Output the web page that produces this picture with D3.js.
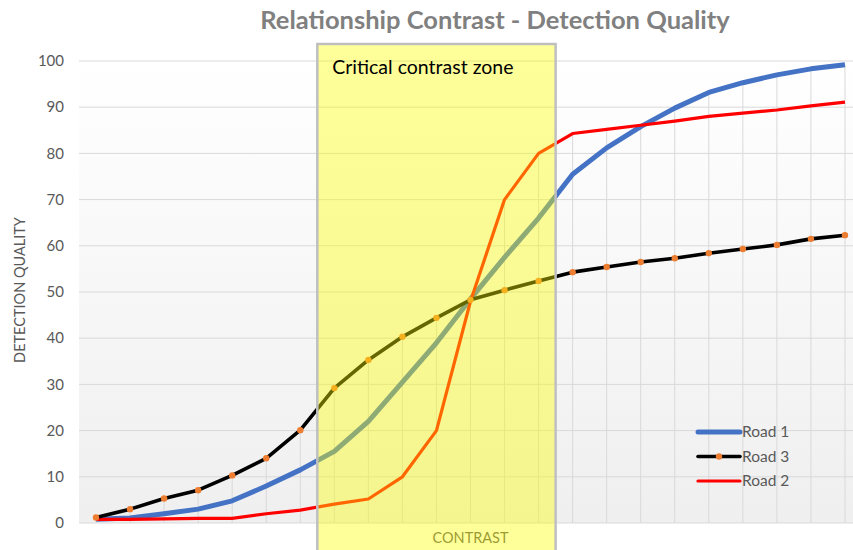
<!DOCTYPE html>
<html>
<head>
<meta charset="utf-8">
<script src="https://cdn.jsdelivr.net/npm/d3@7"></script>
<style>
  body { margin: 0; background: #fff; }
  svg { display: block; font-family: Lato, "Open Sans", sans-serif; }
</style>
</head>
<body>
<svg width="853" height="550"></svg>
<script>
// contrast steps along the x axis (no tick labels shown)
var categories = d3.range(1, 24);

var road1 = [0.8, 1.1, 2, 3, 4.8, 8, 11.5, 15.5, 22, 30.5, 39, 48.5, 57.5, 66, 75.5, 81.2, 85.8, 89.8, 93.2, 95.3, 97, 98.3, 99.2];
var road2 = [0.8, 0.8, 0.9, 1, 1, 2, 2.8, 4.1, 5.2, 10, 20, 48, 70, 80, 84.3, 85.2, 86.1, 87, 88, 88.7, 89.4, 90.3, 91.1];
var road3 = [1.2, 3, 5.3, 7.1, 10.3, 14, 20.1, 29.2, 35.3, 40.3, 44.4, 48.3, 50.4, 52.4, 54.3, 55.4, 56.5, 57.3, 58.4, 59.3, 60.2, 61.5, 62.3];

var yTicks = [0, 10, 20, 30, 40, 50, 60, 70, 80, 90, 100];

// critical zone covers these contrast steps
var zoneFirst = 8, zoneLast = 14;

var series = [
  {name: "Road 1", values: road1, color: "#4472c4", width: 5},
  {name: "Road 2", values: road2, color: "#ff0000", width: 3.2},
  {name: "Road 3", values: road3, color: "#000000", width: 3.6, marker: "#ed7d31"}
];
var legendOrder = ["Road 1", "Road 3", "Road 2"];

var svg = d3.select("svg");

var x = d3.scaleBand()
    .domain(categories)
    .range([79, 862])
    .padding(0);
var cx = function(c) { return x(c) + x.bandwidth() / 2; };

var y = d3.scaleLinear()
    .domain([0, 100])
    .range([523, 61]);

var defs = svg.append("defs");
var grad = defs.append("linearGradient")
    .attr("id", "plotbg")
    .attr("x1", 0).attr("y1", 0).attr("x2", 0).attr("y2", 1);
grad.append("stop").attr("offset", "0%").attr("stop-color", "#ffffff");
grad.append("stop").attr("offset", "100%").attr("stop-color", "#efefef");

svg.append("rect")
    .attr("x", x.range()[0])
    .attr("y", y(100))
    .attr("width", x.range()[1] - x.range()[0])
    .attr("height", y(0) - y(100))
    .attr("fill", "url(#plotbg)");

// horizontal gridlines
svg.append("g")
    .selectAll("line")
    .data(yTicks)
    .enter().append("line")
    .attr("x1", x.range()[0])
    .attr("x2", x.range()[1])
    .attr("y1", function(d) { return y(d); })
    .attr("y2", function(d) { return y(d); })
    .attr("stroke", "#d9d9d9")
    .attr("stroke-width", 1);

// drop lines from the highest series down to the axis
svg.append("g")
    .selectAll("line")
    .data(categories)
    .enter().append("line")
    .attr("x1", function(d) { return cx(d); })
    .attr("x2", function(d) { return cx(d); })
    .attr("y1", function(d, i) { return y(d3.max(series, function(s) { return s.values[i]; })); })
    .attr("y2", y(0))
    .attr("stroke", "#d9d9d9")
    .attr("stroke-width", 1);

// y tick labels
svg.append("g")
    .selectAll("text")
    .data(yTicks)
    .enter().append("text")
    .attr("x", 64)
    .attr("y", function(d) { return y(d); })
    .attr("dy", "0.35em")
    .attr("text-anchor", "end")
    .attr("font-size", 15)
    .attr("fill", "#595959")
    .text(function(d) { return d; });

svg.append("text")
    .attr("transform", "translate(25," + 290 + ") rotate(-90)")
    .attr("text-anchor", "middle")
    .attr("font-size", 14.5)
    .attr("fill", "#595959")
    .text("DETECTION QUALITY");

svg.append("text")
    .attr("x", (x.range()[0] + x.range()[1]) / 2)
    .attr("y", 543)
    .attr("text-anchor", "middle")
    .attr("font-size", 14.5)
    .attr("fill", "#595959")
    .text("CONTRAST");

svg.append("text")
    .attr("x", 495)
    .attr("y", 29)
    .attr("text-anchor", "middle")
    .attr("font-size", 25.5)
    .attr("font-weight", "bold")
    .attr("fill", "#808080")
    .text("Relationship Contrast - Detection Quality");

var line = d3.line()
    .x(function(d, i) { return cx(categories[i]); })
    .y(function(d) { return y(d); });

var lines = svg.append("g");
series.forEach(function(s) {
  lines.append("path")
      .datum(s.values)
      .attr("fill", "none")
      .attr("stroke", s.color)
      .attr("stroke-width", s.width)
      .attr("stroke-linejoin", "round")
      .attr("d", line);
  if (s.marker) {
    lines.selectAll(null)
        .data(s.values)
        .enter().append("circle")
        .attr("cx", function(d, i) { return cx(categories[i]); })
        .attr("cy", function(d) { return y(d); })
        .attr("r", 3.2)
        .attr("fill", s.marker);
  }
});

// critical contrast zone overlay
var zx0 = x(zoneFirst), zx1 = x(zoneLast) + x.bandwidth();
svg.append("rect")
    .attr("x", zx0)
    .attr("y", 44)
    .attr("width", zx1 - zx0)
    .attr("height", 520)
    .attr("fill", "#ffff00")
    .attr("fill-opacity", 0.4)
    .attr("stroke", "#bfbfbf")
    .attr("stroke-width", 2.5);

svg.append("text")
    .attr("x", zx0 + 15)
    .attr("y", 74)
    .attr("font-size", 19.5)
    .attr("fill", "#000")
    .text("Critical contrast zone");

// legend
var legend = svg.append("g")
    .selectAll("g")
    .data(legendOrder.map(function(n) { return series.find(function(s) { return s.name === n; }); }))
    .enter().append("g")
    .attr("transform", function(d, i) { return "translate(698," + (432 + i * 24.5) + ")"; });

legend.append("line")
    .attr("x1", 0).attr("x2", 42)
    .attr("stroke", function(d) { return d.color; })
    .attr("stroke-width", function(d) { return d.width; })
    .attr("stroke-linecap", "round");

legend.filter(function(d) { return d.marker; })
    .append("circle")
    .attr("cx", 21)
    .attr("r", 3.2)
    .attr("fill", function(d) { return d.marker; });

legend.append("text")
    .attr("x", 44)
    .attr("dy", "0.35em")
    .attr("font-size", 15.5)
    .attr("fill", "#595959")
    .text(function(d) { return d.name; });
</script>
</body>
</html>
